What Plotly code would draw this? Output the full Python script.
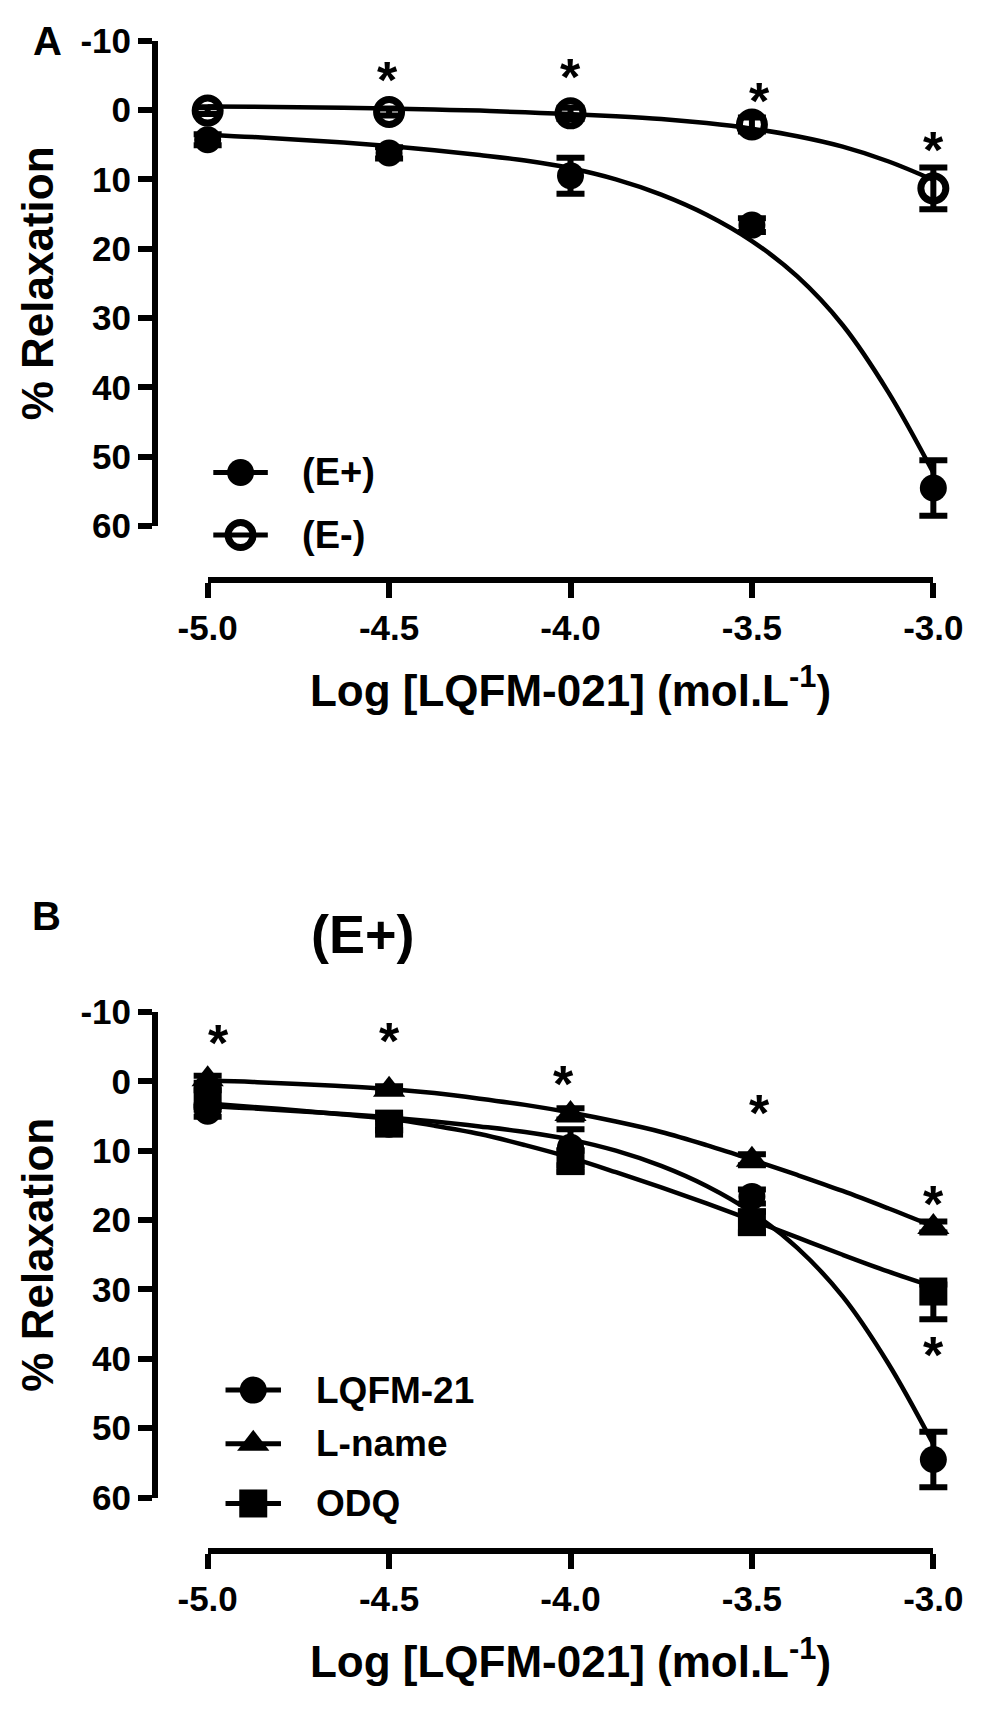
import plotly.graph_objects as go

# values (% relaxation, y axis reversed)
log_conc = [-5.0, -4.5, -4.0, -3.5, -3.0]
x_tickvals = [-5.0, -4.5, -4.0, -3.5, -3.0]
x_ticktext = ["-5.0", "-4.5", "-4.0", "-3.5", "-3.0"]
y_tickvals = [-10, 0, 10, 20, 30, 40, 50, 60]
y_ticktext = ["-10", "0", "10", "20", "30", "40", "50", "60"]

# panel A
e_plus = [4.3, 6.2, 9.5, 16.6, 54.5]
e_plus_err = [0.8, 0.8, 2.6, 1.0, 4.0]
e_minus = [0.1, 0.3, 0.5, 2.1, 11.3]
e_minus_err = [0.5, 0.5, 0.8, 1.0, 3.0]

# panel B (LQFM-21 is the same E+ series)
lqfm = [4.3, 6.2, 9.5, 16.6, 54.5]
lqfm_err = [0.8, 0.8, 2.6, 1.0, 4.0]
l_name = [-0.3, 1.2, 4.7, 11.3, 21.0]
l_name_err = [0.5, 0.5, 0.8, 0.8, 0.8]
odq = [2.5, 6.1, 11.5, 20.3, 30.3]
odq_err = [1.2, 1.0, 1.5, 1.5, 4.0]
odq_err_up = [1.2, 1.0, 1.5, 1.5, 1.0]

# fitted curves, every 0.125 log units
fit_x = [-5.0, -4.875, -4.75, -4.625, -4.5, -4.375, -4.25, -4.125, -4.0,
         -3.875, -3.75, -3.625, -3.5, -3.375, -3.25, -3.125, -3.0]
e_plus_fit = [3.6, 3.9, 4.3, 4.7, 5.2, 5.8, 6.5, 7.3, 8.4,
              10.0, 12.2, 15.1, 18.9, 24.0, 31.0, 40.6, 52.3]
e_minus_fit = [-0.5, -0.45, -0.4, -0.3, -0.2, -0.05, 0.1, 0.35, 0.6,
               0.9, 1.3, 1.9, 2.7, 3.8, 5.3, 7.4, 10.1]
l_name_fit = [-0.1, 0.1, 0.4, 0.7, 1.1, 1.7, 2.5, 3.4, 4.5,
              5.8, 7.3, 9.2, 11.3, 13.5, 15.8, 18.3, 20.9]
odq_fit = [3.2, 3.7, 4.2, 4.8, 5.4, 6.4, 7.6, 9.2, 11.0,
           13.1, 15.3, 17.6, 20.0, 22.5, 25.0, 27.4, 29.6]

# significance asterisks (centre of the star)
stars_a_x = [-4.505, -4.0, -3.48, -3.0]
stars_a_y = [-5.8, -6.2, -2.7, 4.4]
stars_b_x = [-4.97, -4.5, -4.02, -3.48, -3.0, -3.0]
stars_b_y = [-7.0, -7.3, -1.1, 3.1, 16.2, 38.0]

FONT = "Liberation Sans, Arial, sans-serif"
W, H = 1000, 1715
X0, X1 = 189, 961          # pixel span of the x axis line
PAD = 26                   # extra room so end error caps are not clipped
pad_units = PAD * 2.0 / (X1 - X0)

fig = go.Figure()


def series(xa, ya, y, err, fit, symbol, size, lw=0, err_up=None):
    fig.add_trace(go.Scatter(x=fit_x, y=fit, mode="lines", line=dict(color="black", width=4.5, shape="spline"),
                             xaxis=xa, yaxis=ya, showlegend=False, hoverinfo="skip"))
    fig.add_trace(go.Scatter(x=log_conc, y=y, mode="markers", xaxis=xa, yaxis=ya,
                             marker=dict(symbol=symbol, size=size, color="black", line=dict(color="black", width=lw)),
                             error_y=dict(type="data", array=err, arrayminus=err_up if err_up else err,
                                          color="black", thickness=6, width=14),
                             cliponaxis=False, showlegend=False))


series("x", "y", e_plus, e_plus_err, e_plus_fit, "circle", 27)
series("x", "y", e_minus, e_minus_err, e_minus_fit, "circle-open", 25, lw=7)
series("x2", "y2", lqfm, lqfm_err, e_plus_fit, "circle", 27)
series("x2", "y2", l_name, l_name_err, l_name_fit, "triangle-up", 28)
series("x2", "y2", odq, odq_err, odq_fit, "square", 28, err_up=odq_err_up)

# asterisks as annotations, nudged down because the glyph sits high in its box
for xa, ya, sx, sy in [("x", "y", stars_a_x, stars_a_y), ("x2", "y2", stars_b_x, stars_b_y)]:
    for sxv, syv in zip(sx, sy):
        fig.add_annotation(x=sxv, y=syv, xref=xa, yref=ya, text="*", showarrow=False,
                           xanchor="center", yanchor="middle", yshift=-10,
                           font=dict(family=FONT, size=52, color="black", weight="bold"))

# placeholders so the visible x axes get drawn with their own subplot
fig.add_trace(go.Scatter(x=[-4], y=[None], xaxis="x4", yaxis="y", showlegend=False, hoverinfo="skip"))
fig.add_trace(go.Scatter(x=[-4], y=[None], xaxis="x5", yaxis="y2", showlegend=False, hoverinfo="skip"))

# hand-made legends on a pixel overlay axis
legends = [
    (["(E+)", "(E-)"], [("circle", 27, 0), ("circle-open", 25, 7)], [463, 527], 195, 253, 287, 38),
    (["LQFM-21", "L-name", "ODQ"], [("circle", 27, 0), ("triangle-up", 28, 0), ("square", 28, 0)],
     [1402, 1457, 1518], 208, 267, 302, 37),
]
for labels, markers, ys, lx0, lx1, tx, fs in legends:
    for lab, (sym, sz, lw), yy in zip(labels, markers, ys):
        fig.add_trace(go.Scatter(x=[lx0, lx1], y=[yy, yy], mode="lines", line=dict(color="black", width=5),
                                 xaxis="x3", yaxis="y3", showlegend=False, hoverinfo="skip"))
        fig.add_trace(go.Scatter(x=[(lx0 + lx1) / 2], y=[yy], mode="markers", xaxis="x3", yaxis="y3",
                                 marker=dict(symbol=sym, size=sz, color="black", line=dict(color="black", width=lw)),
                                 showlegend=False, hoverinfo="skip", cliponaxis=False))
        fig.add_annotation(x=tx / W, y=1 - yy / H, xref="paper", yref="paper", text=lab, showarrow=False,
                           xanchor="left", yanchor="middle",
                           font=dict(family=FONT, size=fs, color="black", weight="bold"))

tickfont = dict(family=FONT, size=35, color="black", weight="bold")
titlefont = dict(family=FONT, size=44, color="black", weight="bold")
xtitle = "Log [LQFM-021] (mol.L<sup>-1</sup>)"

data_x = dict(range=[-5 - pad_units, -3 + pad_units], domain=[(X0 - PAD) / W, (X1 + PAD) / W],
              visible=False, anchor="free", position=0)
shown_x = dict(range=[-5, -3], tickvals=x_tickvals, ticktext=x_ticktext, showgrid=False, zeroline=False,
               showline=True, linewidth=6, linecolor="black", ticks="outside", ticklen=15, tickwidth=6,
               tickcolor="black", tickfont=tickfont, anchor="free", domain=[X0 / W, X1 / W],
               title=dict(text=xtitle, font=titlefont, standoff=28))
common_y = dict(range=[60, -10], tickvals=y_tickvals, ticktext=y_ticktext, showgrid=False, zeroline=False,
                showline=True, linewidth=6, linecolor="black", ticks="outside", ticklen=14, tickwidth=6,
                tickcolor="black", tickfont=tickfont, anchor="free", position=0.133,
                title=dict(text="% Relaxation", font=titlefont, standoff=12))

fig.update_layout(
    width=W, height=H, margin=dict(l=0, r=0, t=0, b=0),
    paper_bgcolor="white", plot_bgcolor="rgba(0,0,0,0)",
    font=dict(family=FONT, color="black"), showlegend=False,
    xaxis=data_x,
    yaxis=dict(common_y, domain=[1 - 518 / H, 1 - 21 / H]),
    xaxis2=data_x,
    yaxis2=dict(common_y, domain=[1 - 1512 / H, 1 - 1015 / H]),
    xaxis3=dict(domain=[0, 1], range=[0, W], visible=False, fixedrange=True),
    yaxis3=dict(domain=[0, 1], range=[H, 0], visible=False, fixedrange=True),
    xaxis4=dict(shown_x, position=1 - 573 / H),
    xaxis5=dict(shown_x, position=1 - 1567 / H),
)

# panel letters and the (E+) heading of panel B
for txt, x, y, fs in [("A", 19, 22, 40), ("B", 18, 917, 40), ("(E+)", 354, 935, 54)]:
    fig.add_annotation(x=x / W, y=1 - y / H, xref="paper", yref="paper", text=txt, showarrow=False,
                       xanchor="center", yanchor="middle",
                       font=dict(family=FONT, size=fs, color="black", weight="bold"))

fig.write_html("out.html", config={"displayModeBar": False},
               post_script="document.body.style.margin='0';")
